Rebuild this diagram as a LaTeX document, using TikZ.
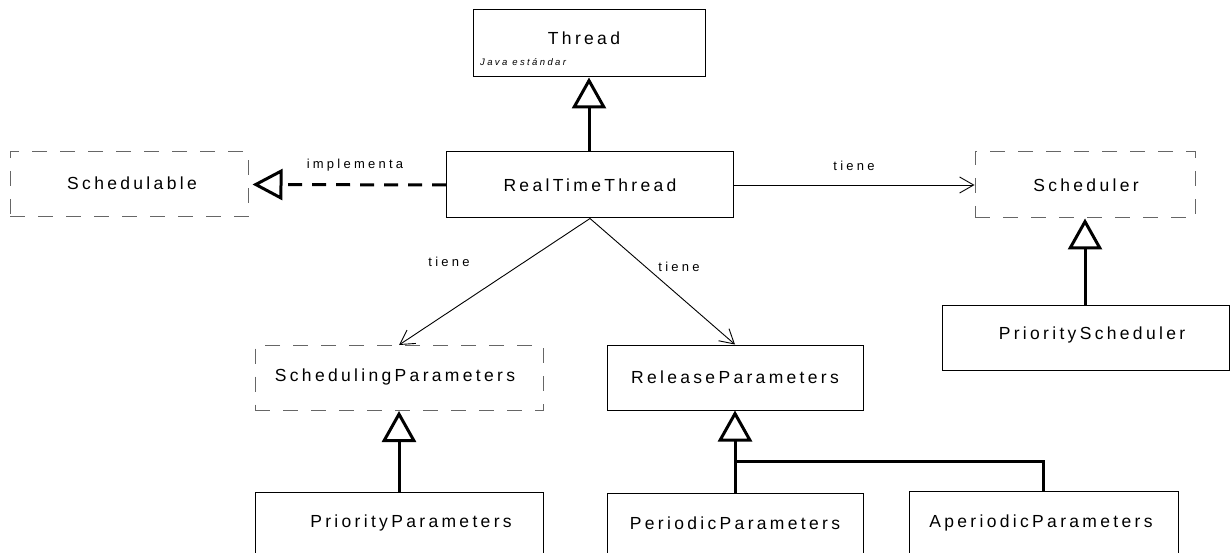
\documentclass[tikz,border=0pt]{standalone}
\usepackage{fontspec}
\setmainfont{Liberation Sans}
\newfontfamily\boxfont{Liberation Sans}[LetterSpace=19]
\newfontfamily\lblfont{Liberation Sans}[LetterSpace=25]
\usetikzlibrary{arrows.meta}
\tikzset{
  cls/.style={draw=black, line width=1pt, inner sep=0pt, minimum width=#1},
  iface/.style={draw=black!60, line width=1pt, dash pattern=on 15pt off 13pt, inner sep=0pt, minimum width=#1},
  ctext/.style={font=\boxfont\fontsize{17.5}{20}\selectfont, inner sep=0pt},
  ltext/.style={font=\lblfont\fontsize{13}{16}\selectfont, inner sep=0pt},
  gen/.style={line width=3pt, -{Triangle[open, length=31pt, width=34pt, line width=3pt]}},
  real/.style={line width=3pt, dash pattern=on 14pt off 10pt, -{Triangle[open, length=30pt, width=31pt, line width=3pt]}},
  has/.style={line width=0.9pt, -{Straight Barb[length=14pt, width=16pt, line width=0.9pt]}},
}
\begin{document}
\begin{tikzpicture}[x=1pt, y=-1pt]
\useasboundingbox (0,0) rectangle (1231,553);
% boxes
\node[cls=232pt, minimum height=67pt] (thread) at (589,43.5) {};
\node[cls=287pt, minimum height=66pt] (rtt) at (590,185) {};
\node[iface=238pt, minimum height=65pt] (sched) at (129,184.5) {};
\node[iface=220pt, minimum height=66pt] (scheduler) at (1085,185) {};
\node[cls=287pt, minimum height=65pt] (psched) at (1085.5,337.5) {};
\node[iface=288pt, minimum height=65pt] (spar) at (399,378) {};
\node[cls=256pt, minimum height=65pt] (rpar) at (735,377.5) {};
\node[cls=288pt, minimum height=70pt] (ppar) at (399,527) {};
\node[cls=256pt, minimum height=70pt] (perpar) at (735,528) {};
\node[cls=269pt, minimum height=70pt] (apar) at (1043.5,526) {};
% texts
\node[ctext] (tthread) at (584,38) {Thread};
\node[font=\lblfont\itshape\fontsize{9.5}{11}\selectfont, anchor=west, inner sep=0pt] (tjava) at (480,62) {Java estándar};
\node[ctext] (trtt) at (590,185) {RealTimeThread};
\node[ctext] (tsched) at (132,183) {Schedulable};
\node[ctext] (tscheduler) at (1086,185) {Scheduler};
\node[ctext] (tpsched) at (1092,335) {PriorityScheduler};
\node[ctext] (tspar) at (395,377) {SchedulingParameters};
\node[ctext] (trpar) at (735,377) {ReleaseParameters};
\node[ctext] (tppar) at (411,523) {PriorityParameters};
\node[ctext] (tperpar) at (735,523) {PeriodicParameters};
\node[ctext] (tapar) at (1041,523) {AperiodicParameters};
% labels
\node[ltext] (limpl) at (355,165) {implementa};
\node[ltext] (lt1) at (854,166) {tiene};
\node[ltext] (lt2) at (449,262) {tiene};
\node[ltext] (lt3) at (679,267) {tiene};
% connectors
\draw[gen] (rtt.north -| thread.south) -- (thread.south);
\draw[real] (rtt.west) -- ([xshift=4pt]sched.east);
\draw[has] (rtt.east) -- (scheduler.west);
\draw[gen] (psched.north -| scheduler.south) -- (scheduler.south);
\draw[has] (rtt.south) -- (spar.north);
\draw[has] (rtt.south) -- (rpar.north);
\draw[gen] (ppar.north -| spar.south) -- (spar.south);
\coordinate (jn) at (735,461);
\draw[gen] (perpar.north) -- (rpar.south);
\draw[line width=3pt] (jn) -| (apar.north);
\end{tikzpicture}
\end{document}
